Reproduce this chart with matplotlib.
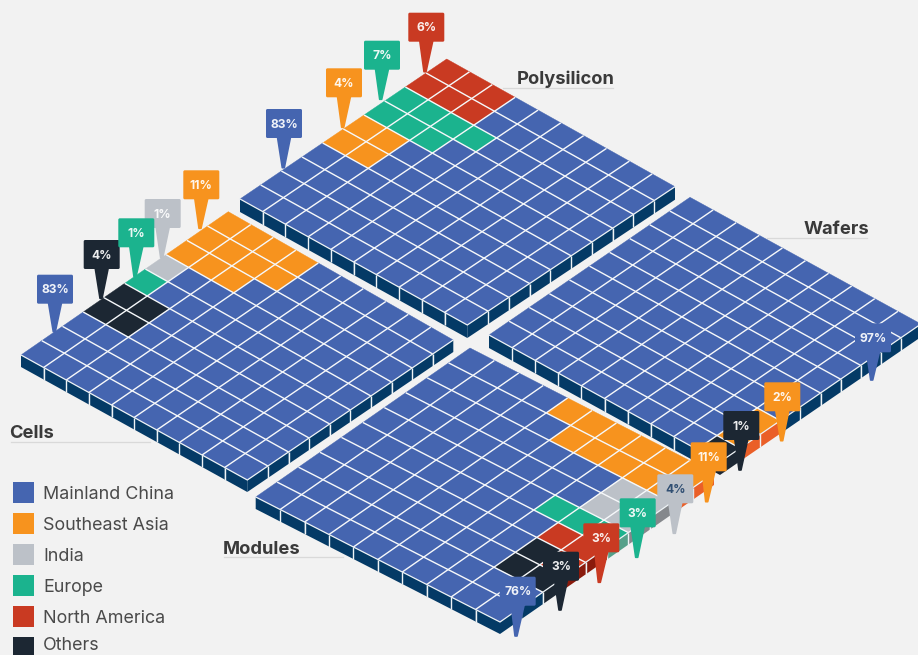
import matplotlib
matplotlib.use("Agg")
from matplotlib import pyplot as plt
from matplotlib.patches import Polygon, Rectangle, FancyBboxPatch

plt.rcParams['font.family'] = ['Inter', 'DejaVu Sans']

# data
regions = ["Mainland China", "Southeast Asia", "India", "Europe", "North America", "Others"]
region_keys = ["C", "S", "I", "E", "N", "O"]

polysilicon_shares = {"C": 83, "S": 4, "E": 7, "N": 6}
cells_shares = {"C": 83, "O": 4, "E": 1, "I": 1, "S": 11}
wafers_shares = {"C": 97, "S": 2, "O": 1}
modules_shares = {"S": 11, "I": 4, "E": 3, "N": 3, "O": 3, "C": 76}

# one string per row of the waffle
polysilicon_grid = ["NNNCCCCCCC", "NNNCCCCCCC", "EEEECCCCCC", "EEECCCCCCC", "SSCCCCCCCC",
                    "SSCCCCCCCC", "CCCCCCCCCC", "CCCCCCCCCC", "CCCCCCCCCC", "CCCCCCCCCC"]
cells_grid = ["SSSSCCCCCC", "SSSSCCCCCC", "SSSCCCCCCC", "ICCCCCCCCC", "ECCCCCCCCC",
              "OOCCCCCCCC", "OOCCCCCCCC", "CCCCCCCCCC", "CCCCCCCCCC", "CCCCCCCCCC"]
wafers_grid = ["CCCCCCCCCC", "CCCCCCCCCC", "CCCCCCCCCC", "CCCCCCCCCC", "CCCCCCCCCC",
               "CCCCCCCCCC", "CCCCCCCCCC", "CCCCCCCCCS", "CCCCCCCCCS", "CCCCCCCCCO"]
modules_grid = ["CCCCSSSSSS", "CCCCCSSSSS", "CCCCCCCCII", "CCCCCCCCII", "CCCCCCCEEE",
                "CCCCCCCCNN", "CCCCCCCCON", "CCCCCCCCOO", "CCCCCCCCCC", "CCCCCCCCCC"]

# style
BG = "#f2f2f2"
top_colors = {"C": "#4565b0", "S": "#f7931e", "I": "#bcc1c8", "E": "#1bb38e", "N": "#c93a22", "O": "#1c2733"}
side_colors = {"C": "#043a66", "S": "#ea5f28", "I": "#85888c", "E": "#55a08a", "N": "#8a1a0c", "O": "#1c2733"}

fig = plt.figure(figsize=(9.18, 6.55), dpi=100, facecolor=BG)
ax = fig.add_axes([0, 0, 1, 1])
ax.set_xlim(0, 918)
ax.set_ylim(655, 0)
ax.axis("off")


def DrawBlock(grid, top, right, bottom, left, depth):
    def P(u, v):
        s, t = u / 10, v / 10
        x = (1 - s) * (1 - t) * top[0] + s * (1 - t) * right[0] + s * t * bottom[0] + (1 - s) * t * left[0]
        y = (1 - s) * (1 - t) * top[1] + s * (1 - t) * right[1] + s * t * bottom[1] + (1 - s) * t * left[1]
        return (x, y)

    for v, row in enumerate(grid):
        for u, key in enumerate(row):
            ax.add_patch(Polygon([P(u, v), P(u + 1, v), P(u + 1, v + 1), P(u, v + 1)],
                                 fc=top_colors[key], ec=top_colors[key], lw=0.3, zorder=2))
    # side faces
    for i in range(10):
        a, b = P(i, 10), P(i + 1, 10)
        ax.add_patch(Polygon([a, b, (b[0], b[1] + depth), (a[0], a[1] + depth)],
                             fc=side_colors[grid[9][i]], ec="none", zorder=2))
        a, b = P(10, i), P(10, i + 1)
        ax.add_patch(Polygon([a, b, (b[0], b[1] + depth), (a[0], a[1] + depth)],
                             fc=side_colors[grid[i][9]], ec="none", zorder=2))
    # white grid
    for i in range(1, 10):
        for a, b in ((P(i, 0), P(i, 10)), (P(0, i), P(10, i))):
            ax.plot([a[0], b[0]], [a[1], b[1]], color="#f6f8fa", lw=1.0, solid_capstyle="butt", zorder=3)
        a = P(i, 10)
        ax.plot([a[0], a[0]], [a[1], a[1] + depth], color="#eef3f6", lw=1.0, solid_capstyle="butt", zorder=3)
        a = P(10, i)
        ax.plot([a[0], a[0]], [a[1], a[1] + depth], color="#eef3f6", lw=1.0, solid_capstyle="butt", zorder=3)
    ax.plot(*zip(P(0, 10), P(10, 10), P(10, 0)), color="#eef3f6", lw=0.9, solid_joinstyle="miter", zorder=3)


tag_order = [10]


def DrawTag(key, value, x, y, tipx, tipy, textcolor="white"):
    w, h = 36, 29
    c = top_colors[key]
    z = tag_order[0]
    tag_order[0] += 1
    ax.add_patch(Polygon([(x + w / 2 - 6.5, y + h - 1), (x + w / 2 + 6.5, y + h - 1), (tipx + 1, tipy), (tipx - 1, tipy)],
                         fc=c, ec=c, lw=1.2, joinstyle="round", zorder=z))
    ax.add_patch(FancyBboxPatch((x + 1, y + 1), w - 2, h - 2, boxstyle="round,pad=1,rounding_size=1.5",
                                fc=c, ec="none", zorder=z))
    ax.text(x + w / 2, y + h / 2 + 1.2, f"{value}%", color=textcolor, fontsize=8.7, fontweight="bold",
            ha="center", va="center", zorder=z, alpha=0.92)


DrawBlock(polysilicon_grid, (446.7, 59), (675, 186.7), (467.3, 325), (240, 199), 13)
DrawBlock(cells_grid, (228.3, 211.7), (453.3, 340), (247.3, 480), (21, 355), 12)
DrawBlock(wafers_grid, (690, 197.3), (921, 324), (720, 462), (489, 335), 13)
DrawBlock(modules_grid, (470, 348), (714, 473), (500, 622), (255.7, 497), 12)

# tags: key, box left, box top, tip x, tip y
polysilicon_tags = [("C", 266, 109, 283.3, 167.7), ("S", 326, 68.3, 342.7, 127.3),
                    ("E", 364, 40.7, 380.7, 99.3), ("N", 408.3, 12.7, 425, 71.7)]
cells_tags = [("S", 183.3, 170.3, 200, 228.3), ("I", 144.7, 199, 161.7, 257.7),
              ("O", 83.7, 240, 101, 298.3), ("E", 118.3, 218.3, 135, 276.7),
              ("C", 37, 274.7, 54.3, 331.7)]
wafers_tags = [("C", 855, 323.3, 871.7, 380), ("S", 764.3, 382.3, 781.7, 440.7),
               ("O", 723.3, 411, 740, 470)]
modules_tags = [("S", 690.7, 442.3, 706.7, 501.7), ("I", 657.3, 474.3, 674.3, 533.3),
                ("E", 619.7, 498.3, 636.7, 557.3), ("N", 583.3, 523.3, 599.3, 582.3),
                ("O", 543, 551.7, 560, 610), ("C", 499.7, 576.7, 516, 636)]

for tags, shares in ((polysilicon_tags, polysilicon_shares), (cells_tags, cells_shares),
                     (wafers_tags, wafers_shares), (modules_tags, modules_shares)):
    for key, x, y, tipx, tipy in tags:
        col = "#24456b" if (key == "I" and tags is modules_tags) else "white"
        DrawTag(key, shares[key], x, y, tipx, tipy, col)

# stage labels
stage_labels = [("Polysilicon", 517, 79, 503, 613, 88), ("Wafers", 804, 229.5, 767, 867, 237.5),
                ("Cells", 9, 433.5, 11, 150, 441.5), ("Modules", 222.5, 549, 224, 343, 557)]
for name, x, y, x0, x1, yl in stage_labels:
    ax.plot([x0, x1], [yl, yl], color="#d9d9d9", lw=0.9, zorder=1)
    ax.text(x, y, name, color="#3a3a3a", fontsize=13.2, fontweight="bold", ha="left", va="center", zorder=30)

# legend
for i, (name, key) in enumerate(zip(regions, region_keys)):
    y = 482.3 + i * 30.95
    ax.add_patch(Rectangle((12.7, y), 21, 20.7, fc=top_colors[key], ec="none"))
    ax.text(43, min(y + 12, 645.5), name, color="#4a4a4a", fontsize=12.9, ha="left", va="center")

fig.savefig("out.png", dpi=100, facecolor=BG)
